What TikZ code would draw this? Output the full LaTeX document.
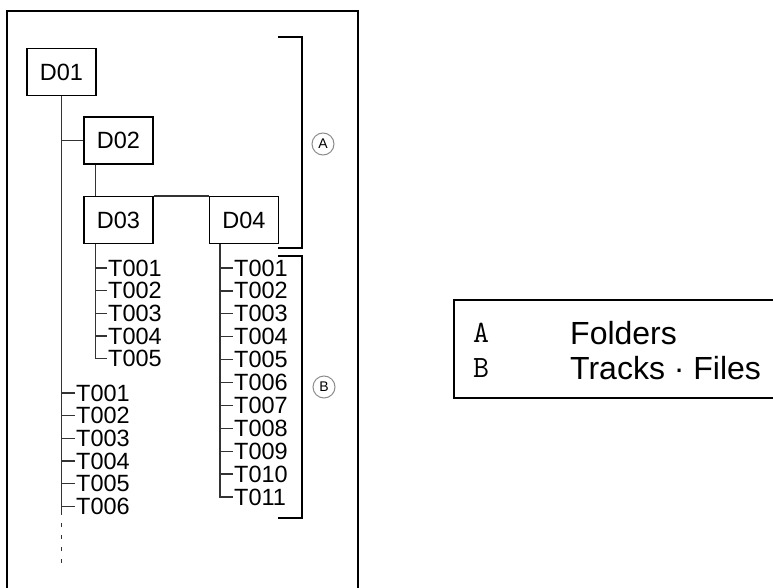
\documentclass[tikz,border=0pt]{standalone}
\usepackage{fontspec}
\setmainfont{Liberation Sans}
\usetikzlibrary{positioning,calc}

\begin{document}
\begin{tikzpicture}[x=1pt, y=-1pt,
  dir/.style={rectangle, draw, line width=1.3pt, minimum width=69pt, minimum height=47pt, inner sep=0pt, font=\fontsize{23.5}{26}\selectfont},
  trk/.style={anchor=west, inner sep=1pt, font=\fontsize{23.5}{26}\selectfont},
  ln/.style={line width=1.3pt, black!80},
  brk/.style={line width=2pt},
  tag/.style={circle, draw=black!45, line width=1pt, minimum size=22pt, inner sep=0pt, font=\fontsize{14}{14}\selectfont},
  leg/.style={anchor=west, inner sep=0pt, font=\fontsize{32}{34}\selectfont},
  legkey/.style={anchor=west, inner sep=0pt, font=\ttfamily\fontsize{31}{32}\selectfont}
]
  \useasboundingbox (0,0) rectangle (773,588);
  % outer frame and legend frame
  \draw[line width=2pt] (7,588) |- (358,11) -- (358,588);
  \draw[line width=1.8pt] (773,300) -| (454,398) -- (773,398);

  % folders
  \node[dir] (d01) at (61.5,72) {D01};
  \node[dir] (d02) at (118.5,140.5) {D02};
  \node[dir] (d03) at (118.5,220) {D03};
  \node[dir] (d04) at (244,220) {D04};

  \coordinate (trunk) at (61.5,515);
  \coordinate (dotsa) at (61.5,523);
  \coordinate (dotsb) at (61.5,563);
  \coordinate (br3) at ($(d03.south west)+(12,0)$);
  \coordinate (br4) at ($(d04.south west)+(11,0)$);

  \draw[ln] (d01.south) -- (trunk);
  \draw[ln, dash pattern=on 4pt off 8pt] (dotsa) -- (dotsb);
  \draw[ln] (d01.south |- d02.west) -- (d02.west);
  \draw[ln] ($(d02.south west)+(12,0)$) -- ($(d03.north west)+(12,0)$);
  \draw[ln] (d03.north east) -- (d04.north west);

  % tracks
  \foreach \i in {1,...,5}
    \node[trk] (a\i) at (107,245.3+22.7*\i) {T00\i};
  \draw[ln] (br3) |- (a5.west);
  \foreach \i in {1,...,4}
    \draw[ln] (br3 |- a\i.west) -- (a\i.west);

  \foreach \t [count=\i] in {T001,T002,T003,T004,T005,T006,T007,T008,T009,T010,T011}
    \node[trk] (b\i) at (233,245.1+22.9*\i) {\t};
  \draw[ln] (br4) |- (b11.west);
  \foreach \i in {1,...,10}
    \draw[ln] (br4 |- b\i.west) -- (b\i.west);

  \foreach \i in {1,...,6}
    \node[trk] (c\i) at (75,370.3+22.7*\i) {T00\i};
  \foreach \i in {1,...,6}
    \draw[ln] (trunk |- c\i.west) -- (c\i.west);

  % brackets
  \draw[brk] (278,37) -| (302,248) -- (278,248);
  \draw[brk] (278,256) -| (302,518) -- (278,518);
  \node[tag] (ta) at (323,144) {A};
  \node[tag] (tb) at (324,387) {B};

  % legend
  \node[legkey] (la) at (473,333) {A};
  \node[legkey] (lb) at (473,368) {B};
  \node[leg] (lfa) at (570,333) {Folders};
  \node[leg] (lfb) at (570,368) {Tracks · Files};
\end{tikzpicture}
\end{document}
